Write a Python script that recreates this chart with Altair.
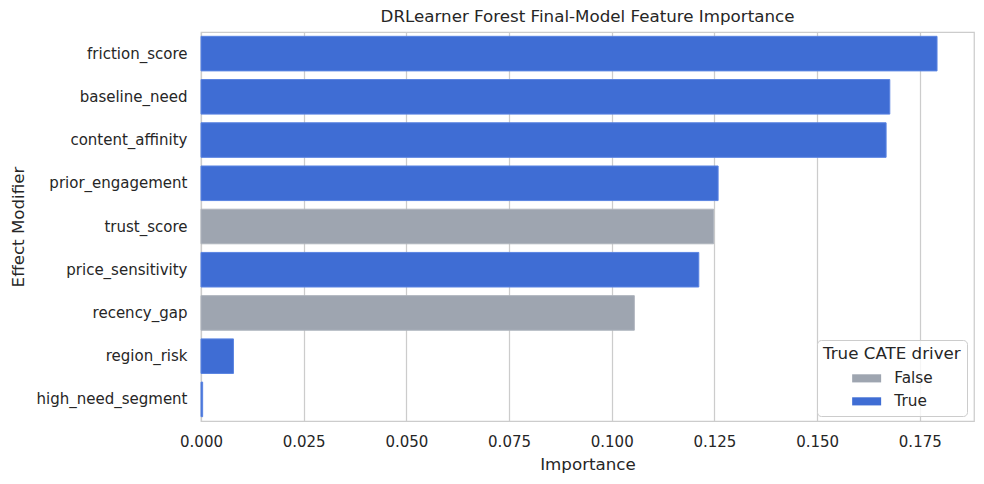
import altair as alt
import pandas as pd

features = [
    "friction_score", "baseline_need", "content_affinity", "prior_engagement",
    "trust_score", "price_sensitivity", "recency_gap", "region_risk",
    "high_need_segment",
]
importance = [0.1792, 0.1677, 0.1668, 0.1259, 0.1248, 0.1212, 0.1055, 0.0079, 0.0004]
is_driver = ["True", "True", "True", "True", "False", "True", "False", "True", "True"]
x_ticks = [0.0, 0.025, 0.05, 0.075, 0.1, 0.125, 0.15, 0.175]

df = pd.DataFrame({
    "Effect Modifier": features,
    "Importance": importance,
    "True CATE driver": is_driver,
})

FONT = "DejaVu Sans"
TXT = "#262626"
GRID = "#cccccc"

bars = alt.Chart(df).mark_bar(strokeWidth=1).encode(
    y=alt.Y(
        "Effect Modifier:N",
        sort=features,
        scale=alt.Scale(paddingInner=0.2, paddingOuter=0.1),
        axis=alt.Axis(
            title="Effect Modifier", ticks=False, domain=False, grid=False,
            labelFontSize=15, labelPadding=14, labelColor=TXT, labelFont=FONT,
            titleFontSize=16.7, titlePadding=9, titleColor=TXT, titleFont=FONT,
            titleFontWeight="normal",
        ),
    ),
    x=alt.X(
        "Importance:Q",
        scale=alt.Scale(domain=[0, 0.1882], nice=False, zero=True),
        axis=alt.Axis(
            title="Importance", values=x_ticks, format=".3f", grid=True,
            gridColor=GRID, gridWidth=1.25, ticks=False, domain=False,
            labelFlush=False, labelFontSize=15, labelPadding=13, labelColor=TXT,
            labelFont=FONT, titleFontSize=16.7, titlePadding=7, titleColor=TXT,
            titleFont=FONT, titleFontWeight="normal",
        ),
    ),
    color=alt.Color(
        "True CATE driver:N",
        scale=alt.Scale(domain=["False", "True"], range=["#9ea5b0", "#3f6dd4"]),
        legend=alt.Legend(
            title="True CATE driver", orient="none", legendX=616, legendY=308,
            fillColor="rgba(255,255,255,0.8)", strokeColor=GRID, cornerRadius=4,
            padding=6, titleFontSize=16.7, titleFont=FONT, titleColor=TXT,
            titleFontWeight="normal", titlePadding=8, labelFontSize=15.3,
            labelFont=FONT, labelColor=TXT, labelOffset=20, rowPadding=7,
            symbolType="M-2,-0.56L2,-0.56L2,0.56L-2,0.56Z", symbolSize=210,
            symbolStrokeWidth=0, symbolOffset=36,
        ),
    ),
    stroke=alt.Stroke(
        "True CATE driver:N",
        scale=alt.Scale(domain=["False", "True"], range=["#aeb4bd", "#5a84e2"]),
        legend=None,
    ),
)

chart = bars.properties(
    width=773,
    height=389,
    title=alt.TitleParams(
        "DRLearner Forest Final-Model Feature Importance",
        fontSize=16.7, font=FONT, color=TXT, fontWeight="normal",
        anchor="middle", offset=6,
    ),
    autosize=alt.AutoSizeParams(type="none"),
    padding={"left": 193, "top": 24, "right": 2, "bottom": 55},
    background="white",
).configure_view(stroke=GRID, strokeWidth=1.25)

chart.save("out.html", embed_options={"renderer": "svg", "actions": False})
